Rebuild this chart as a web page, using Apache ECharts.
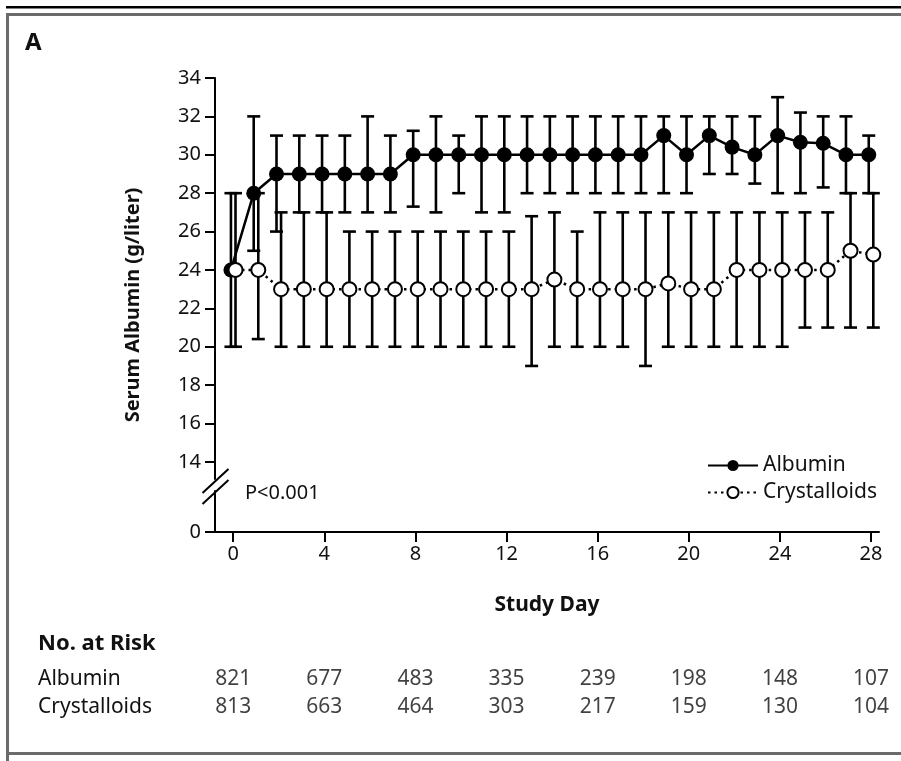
<!DOCTYPE html>
<html>
<head>
<meta charset="utf-8">
<script src="https://cdn.jsdelivr.net/npm/echarts@6/dist/echarts.min.js"></script>
<style>
  html, body { margin: 0; padding: 0; background: #fff; }
  #chart { width: 901px; height: 761px; }
</style>
</head>
<body>
<div id="chart"></div>
<script>
// Study days with measurements
const days = [0, 1, 2, 3, 4, 5, 6, 7, 8, 9, 10, 11, 12, 13, 14, 15, 16, 17, 18, 19, 20, 21, 22, 23, 24, 25, 26, 27, 28];

// Albumin group: mean serum albumin and bar limits (g/liter)
const albuminMean = [24, 28, 29, 29, 29, 29, 29, 29, 30, 30, 30, 30, 30, 30, 30, 30, 30, 30, 30, 31, 30, 31, 30.4, 30, 31, 30.65, 30.6, 30, 30];
const albuminLow  = [20, 25, 26, 27, 27, 27, 27, 27, 27.3, 27, 28, 27, 27, 28, 28, 28, 28, 28, 28, 28, 28, 29, 29, 28.5, 28, 28, 28.3, 28, 28];
const albuminHigh = [28, 32, 31, 31, 31, 31, 32, 31, 31.25, 32, 31, 32, 32, 32, 32, 32, 32, 32, 32, 32, 32, 32, 32, 32, 33, 32.2, 32, 32, 31];

// Crystalloids group
const crystMean = [24, 24, 23, 23, 23, 23, 23, 23, 23, 23, 23, 23, 23, 23, 23.5, 23, 23, 23, 23, 23.3, 23, 23, 24, 24, 24, 24, 24, 25, 24.8];
const crystLow  = [20, 20.4, 20, 20, 20, 20, 20, 20, 20, 20, 20, 20, 20, 19, 20, 20, 20, 20, 19, 20, 20, 20, 20, 20, 20, 21, 21, 21, 21];
const crystHigh = [28, 28, 27, 27, 27, 26, 26, 26, 26, 26, 26, 26, 26, 26.8, 27, 26, 27, 27, 27, 27, 27, 27, 27, 27, 27, 27, 27, 28, 28];

// Axis ticks
const xTicks = [0, 4, 8, 12, 16, 20, 24, 28];
const yTicks = [0, 14, 16, 18, 20, 22, 24, 26, 28, 30, 32, 34];

// Number at risk table
const riskDays = [0, 4, 8, 12, 16, 20, 24, 28];
const riskGroups = ['Albumin', 'Crystalloids'];
const riskAlbumin = [821, 677, 483, 335, 239, 198, 148, 107];
const riskCryst = [813, 663, 464, 303, 217, 159, 130, 104];

const FONT = '"Noto Sans", "Open Sans", sans-serif';
const INK = '#111';
// small horizontal shift so the two groups' bars don't sit on top of each other
const SHIFT = 0.1;

function errorBarSeries(name, shift, lows, highs) {
  return {
    name: name,
    type: 'custom',
    xAxisIndex: 0,
    yAxisIndex: 0,
    silent: true,
    z: 2,
    data: days.map((d, i) => [d + shift, lows[i], highs[i]]),
    encode: { x: 0, y: [1, 2] },
    renderItem: function (params, api) {
      const x = api.value(0);
      const lo = api.coord([x, api.value(1)]);
      const hi = api.coord([x, api.value(2)]);
      const hw = 6.5;
      const style = { stroke: '#000', lineWidth: 2.6, fill: null };
      return {
        type: 'group',
        children: [
          { type: 'line', shape: { x1: lo[0], y1: lo[1], x2: hi[0], y2: hi[1] }, style: style },
          { type: 'line', shape: { x1: lo[0] - hw, y1: lo[1], x2: lo[0] + hw, y2: lo[1] }, style: style },
          { type: 'line', shape: { x1: hi[0] - hw, y1: hi[1], x2: hi[0] + hw, y2: hi[1] }, style: style }
        ]
      };
    }
  };
}

const chart = echarts.init(document.getElementById('chart'), null, { renderer: 'canvas' });

chart.setOption({
  animation: false,
  backgroundColor: '#fff',
  textStyle: { fontFamily: FONT, color: INK },
  grid: [
    { left: 215, right: 22, top: 78, bottom: 229, containLabel: false },
    { left: 215, right: 22, top: 665, height: 56, containLabel: false }
  ],
  xAxis: [
    {
      type: 'value', gridIndex: 0, min: -0.8, max: 28.35,
      axisLine: { show: true, onZero: false, lineStyle: { color: '#000', width: 2 } },
      axisTick: { show: true, length: 10, customValues: xTicks, lineStyle: { color: '#000', width: 2 } },
      axisLabel: { customValues: xTicks, fontSize: 20, color: INK, margin: 12, fontFamily: FONT },
      splitLine: { show: false },
      name: 'Study Day', nameLocation: 'middle', nameGap: 63,
      nameTextStyle: { fontSize: 21, fontWeight: 'bold', color: INK, fontFamily: FONT }
    },
    {
      type: 'value', gridIndex: 1, min: -0.8, max: 28.35, show: false
    }
  ],
  yAxis: [
    {
      type: 'value', gridIndex: 0, min: 0, max: 34,
      // broken axis between 0 and 14
      breaks: [{ start: 2.15, end: 13.1, gap: 0.6 }],
      breakArea: { show: false },
      axisLine: { show: true, onZero: false, lineStyle: { color: '#000', width: 2 } },
      axisTick: { show: true, length: 10, customValues: yTicks, lineStyle: { color: '#000', width: 2 } },
      axisLabel: { customValues: yTicks, fontSize: 20, color: INK, margin: 14, fontFamily: FONT },
      splitLine: { show: false },
      name: 'Serum Albumin (g/liter)', nameLocation: 'middle', nameGap: 72, nameRotate: 90,
      nameTextStyle: { fontSize: 20, fontWeight: 'bold', color: INK, fontFamily: FONT }
    },
    {
      type: 'category', gridIndex: 1, data: riskGroups, inverse: true,
      axisLine: { show: false }, axisTick: { show: false },
      axisLabel: { align: 'left', margin: 177, fontSize: 21, color: INK, fontFamily: FONT },
      splitLine: { show: false }
    }
  ],
  legend: {
    data: ['Albumin', 'Crystalloids'],
    orient: 'vertical', left: 702, top: 450,
    itemWidth: 50, itemHeight: 14, itemGap: 6,
    textStyle: { fontSize: 21, color: INK, fontFamily: FONT },
    selectedMode: false
  },
  series: [
    errorBarSeries('Albumin SD', -SHIFT, albuminLow, albuminHigh),
    errorBarSeries('Crystalloids SD', SHIFT, crystLow, crystHigh),
    {
      name: 'Albumin', type: 'line', xAxisIndex: 0, yAxisIndex: 0, z: 4,
      data: days.map((d, i) => [d - SHIFT, albuminMean[i]]),
      symbol: 'circle', symbolSize: 15,
      lineStyle: { color: '#000', width: 2.5 },
      itemStyle: { color: '#000', borderColor: '#000', borderWidth: 0 }
    },
    {
      name: 'Crystalloids', type: 'line', xAxisIndex: 0, yAxisIndex: 0, z: 5,
      data: days.map((d, i) => [d + SHIFT, crystMean[i]]),
      symbol: 'circle', symbolSize: 14,
      lineStyle: { color: '#000', width: 2.5, type: [2.5, 4] },
      itemStyle: { color: '#fff', borderColor: '#000', borderWidth: 2 }
    },
    {
      name: 'risk-albumin', type: 'scatter', xAxisIndex: 1, yAxisIndex: 1,
      symbolSize: 0, silent: true,
      data: riskDays.map((d, i) => [d, riskGroups[0], riskAlbumin[i]]),
      label: { show: true, position: 'inside', formatter: p => String(p.value[2]), fontSize: 21, color: INK, fontFamily: FONT }
    },
    {
      name: 'risk-cryst', type: 'scatter', xAxisIndex: 1, yAxisIndex: 1,
      symbolSize: 0, silent: true,
      data: riskDays.map((d, i) => [d, riskGroups[1], riskCryst[i]]),
      label: { show: true, position: 'inside', formatter: p => String(p.value[2]), fontSize: 21, color: INK, fontFamily: FONT }
    }
  ],
  graphic: [
    // page frame
    { type: 'rect', shape: { x: 6, y: 6, width: 895, height: 2.5 }, style: { fill: '#000' }, silent: true },
    { type: 'rect', shape: { x: 6, y: 13, width: 895, height: 3 }, style: { fill: '#6b6b6b' }, silent: true },
    { type: 'rect', shape: { x: 6, y: 13, width: 3, height: 748 }, style: { fill: '#6b6b6b' }, silent: true },
    { type: 'rect', shape: { x: 6, y: 752, width: 895, height: 3 }, style: { fill: '#6b6b6b' }, silent: true },
    // panel letter
    { type: 'text', left: 25, top: 31, style: { text: 'A', font: 'bold 24px ' + FONT, fill: INK } },
    // axis break marks
    { type: 'line', shape: { x1: 202.5, y1: 493, x2: 228.5, y2: 469 }, style: { stroke: '#000', lineWidth: 2 }, silent: true },
    { type: 'line', shape: { x1: 202.5, y1: 504, x2: 228.5, y2: 480 }, style: { stroke: '#000', lineWidth: 2 }, silent: true },
    // p value
    { type: 'text', left: 245, top: 483, style: { text: 'P<0.001', font: '20px ' + FONT, fill: INK } },
    // table heading
    { type: 'text', left: 38, top: 633, style: { text: 'No. at Risk', font: 'bold 22px ' + FONT, fill: INK } }
  ]
});
</script>
</body>
</html>
